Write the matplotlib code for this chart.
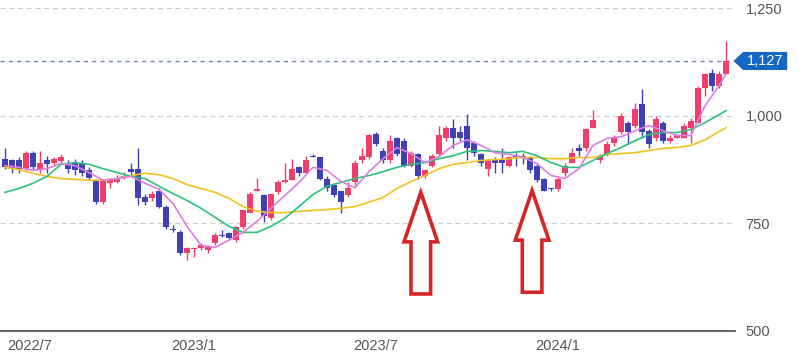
import matplotlib
matplotlib.use("Agg")
import matplotlib.pyplot as plt
from matplotlib.patches import Polygon
import numpy as np

plt.rcParams['font.family'] = ['Liberation Sans', 'DejaVu Sans']

# weekly candles, week 0 = 2022/6/27
opens = [900, 896, 896, 877, 914, 877, 896, 889, 894, 889,
         889, 891, 873, 850, 799, 843, 847, 856, 875, 877,
         810, 808, 826, 787, 738, 729, 681, 690, 692, 687,
         704, 722, 727, 711, 741, 775, 824, 815, 762, 822,
         845, 850, 880, 868, 905, 903, 854, 838, 826, 815,
         845, 896, 903, 958, 919, 896, 947, 942, 884, 912,
         861, 884, 912, 947, 972, 961, 977, 937, 912, 877,
         898, 896, 884, 907, 907, 903, 884, 854, 831, 829,
         866, 891, 924, 924, 972, 896, 912, 937, 961, 984,
         977, 1028, 965, 947, 984, 942, 949, 949, 972, 984,
         1065, 1100, 1069, 1097]
highs = [926, 900, 903, 917, 919, 919, 907, 903, 912, 896,
         900, 896, 880, 852, 852, 856, 863, 870, 891, 926,
         819, 824, 831, 792, 745, 734, 694, 692, 704, 699,
         727, 734, 729, 743, 782, 822, 856, 819, 819, 850,
         891, 900, 884, 907, 912, 905, 859, 843, 826, 845,
         896, 926, 958, 961, 926, 954, 951, 947, 919, 914,
         877, 912, 977, 975, 993, 977, 1005, 942, 914, 900,
         903, 926, 907, 914, 914, 907, 889, 856, 831, 859,
         891, 924, 935, 972, 1012, 912, 942, 954, 1007, 988,
         1030, 1063, 970, 1000, 988, 954, 958, 982, 995, 1069,
         1100, 1109, 1104, 1174]
lows = [875, 868, 866, 873, 873, 868, 866, 882, 889, 868,
        863, 859, 850, 796, 796, 833, 843, 852, 863, 792,
        792, 803, 785, 736, 729, 676, 664, 671, 687, 681,
        699, 718, 711, 706, 738, 773, 824, 752, 757, 819,
        843, 850, 861, 866, 903, 850, 826, 810, 775, 810,
        840, 891, 900, 930, 891, 891, 907, 880, 880, 854,
        856, 880, 907, 942, 926, 942, 896, 907, 884, 861,
        868, 868, 880, 882, 887, 868, 845, 824, 824, 824,
        861, 889, 907, 919, 972, 889, 907, 930, 958, 935,
        972, 949, 924, 942, 937, 937, 947, 947, 937, 982,
        1046, 1058, 1065, 1097]
closes = [880, 877, 873, 914, 880, 891, 887, 900, 905, 877,
          873, 868, 856, 799, 850, 852, 856, 861, 870, 808,
          799, 819, 787, 741, 734, 681, 692, 692, 699, 697,
          722, 720, 715, 741, 780, 819, 829, 768, 819, 845,
          850, 877, 866, 896, 903, 854, 831, 815, 799, 831,
          891, 907, 954, 935, 896, 942, 912, 884, 914, 861,
          873, 907, 954, 972, 947, 947, 924, 914, 889, 896,
          891, 889, 905, 903, 903, 873, 850, 826, 829, 854,
          884, 914, 919, 970, 991, 907, 935, 949, 1000, 961,
          1016, 961, 935, 993, 942, 947, 954, 977, 988, 1065,
          1097, 1069, 1097, 1127]

# moving averages read every second week (plus the last week)
ma_weeks = list(range(0, 104, 2)) + [103]
ma_short = [884, 880, 873, 877, 889, 884, 868, 850, 854, 859,
            843, 829, 796, 743, 699, 694, 711, 729, 755, 785,
            815, 845, 880, 873, 847, 833, 870, 900, 926, 912,
            891, 905, 931, 944, 931, 914, 910, 903, 889, 861,
            854, 877, 931, 947, 951, 965, 977, 965, 954, 954,
            1023, 1069, 1097]
ma_mid = [822, 831, 843, 859, 887, 891, 887, 877, 868, 859,
          854, 836, 819, 803, 785, 764, 743, 729, 729, 743,
          762, 789, 817, 836, 845, 854, 861, 870, 880, 887,
          891, 900, 907, 917, 919, 917, 914, 917, 907, 891,
          880, 880, 896, 912, 926, 942, 956, 961, 961, 968,
          984, 1002, 1012]
ma_long = [880, 875, 866, 859, 854, 852, 850, 850, 854, 861,
           866, 863, 854, 840, 831, 822, 808, 789, 778, 775,
           775, 778, 780, 782, 785, 789, 799, 810, 831, 847,
           861, 877, 887, 891, 896, 898, 900, 903, 903, 900,
           900, 903, 903, 910, 912, 914, 919, 924, 926, 931,
           944, 963, 972]

tick_weeks = [1, 27, 53, 79]
tick_labels = ['2022/7', '2023/1', '2023/7', '2024/1']
y_ticks = [500, 750, 1000, 1250]

# weeks the red arrows point at
arrow_weeks = [59.4, 75.3]
arrow_tips = [822, 826]

up_col = '#ef3d6c'
down_col = '#3f3fb6'
text_col = '#555555'

fig = plt.figure(figsize=(8.02, 3.61), dpi=100)
ax = fig.add_axes([0, 30 / 361, 735 / 802, 323 / 361])

x = np.arange(len(opens))
o = np.array(opens, dtype=float)
c = np.array(closes, dtype=float)
cols = [up_col if cc >= oo else down_col for oo, cc in zip(o, c)]

# wicks and bodies
ax.vlines(x, lows, highs, colors=cols, linewidth=1.0, zorder=3)
body_bottom = np.minimum(o, c)
body_h = np.maximum(np.abs(c - o), 2.5)
ax.bar(x, body_h, bottom=body_bottom, width=0.72, color=cols, zorder=4)

# moving averages
ax.plot(ma_weeks, ma_long, color='#f4c21f', lw=1.2, zorder=5)
ax.plot(ma_weeks, ma_mid, color='#2cc27e', lw=1.2, zorder=5)
ax.plot(ma_weeks, ma_short, color='#dc7fe0', lw=1.2, zorder=5)

# current price line
last = closes[-1]
ax.axhline(last, color='#6f86ad', lw=1.0, ls=(0, (3, 3)), zorder=2)

ax.set_xlim(-5 / 7, 730 / 7)
ax.set_ylim(500, 1250)

ax.yaxis.tick_right()
ax.set_yticks(y_ticks)
ax.set_yticklabels([f'{v:,}' for v in y_ticks])
ax.tick_params(axis='y', length=0, pad=7.5, labelsize=10.5, labelcolor=text_col)
# the first month label is pushed against the left edge, so its tick sits at the edge
x_tick_pos = [0.3] + tick_weeks[1:]
ax.set_xticks(x_tick_pos)
ax.set_xticklabels(tick_labels)
ax.tick_params(axis='x', length=0, pad=6, labelsize=10.5, labelcolor=text_col)
ax.get_xticklabels()[0].set_horizontalalignment('left')

ax.grid(axis='y', color='#cfcfcf', lw=0.9, ls=(0, (4, 3)), zorder=0)
ax.grid(axis='x', visible=False)
for s in ['top', 'left', 'right']:
    ax.spines[s].set_visible(False)
ax.spines['bottom'].set_color('#555555')
ax.spines['bottom'].set_linewidth(1.3)
ax.spines['bottom'].set_zorder(6)

# price tag on the right
tr = ax.get_yaxis_transform()
tag = Polygon([(0.998, last), (1.011, last + 21), (1.071, last + 21),
               (1.071, last - 21), (1.011, last - 21)],
              closed=True, transform=tr, facecolor='#1467c4', edgecolor='none',
              clip_on=False, zorder=7)
ax.add_patch(tag)
ax.text(1.041, last, f'{last:,}', transform=tr, color='white', fontsize=10.5,
        ha='center', va='center', zorder=8, clip_on=False)

# hollow red arrows
for wx, wy in zip(arrow_weeks, arrow_tips):
    pts = [(wx, wy), (wx + 2.4, wy - 115), (wx + 1.4, wy - 115),
           (wx + 1.4, wy - 236), (wx - 1.4, wy - 236), (wx - 1.4, wy - 115),
           (wx - 2.4, wy - 115)]
    ax.add_patch(Polygon(pts, closed=True, facecolor='white', edgecolor='#d42626',
                         linewidth=2.6, joinstyle='miter', zorder=8))

fig.savefig('out.png', dpi=100)
